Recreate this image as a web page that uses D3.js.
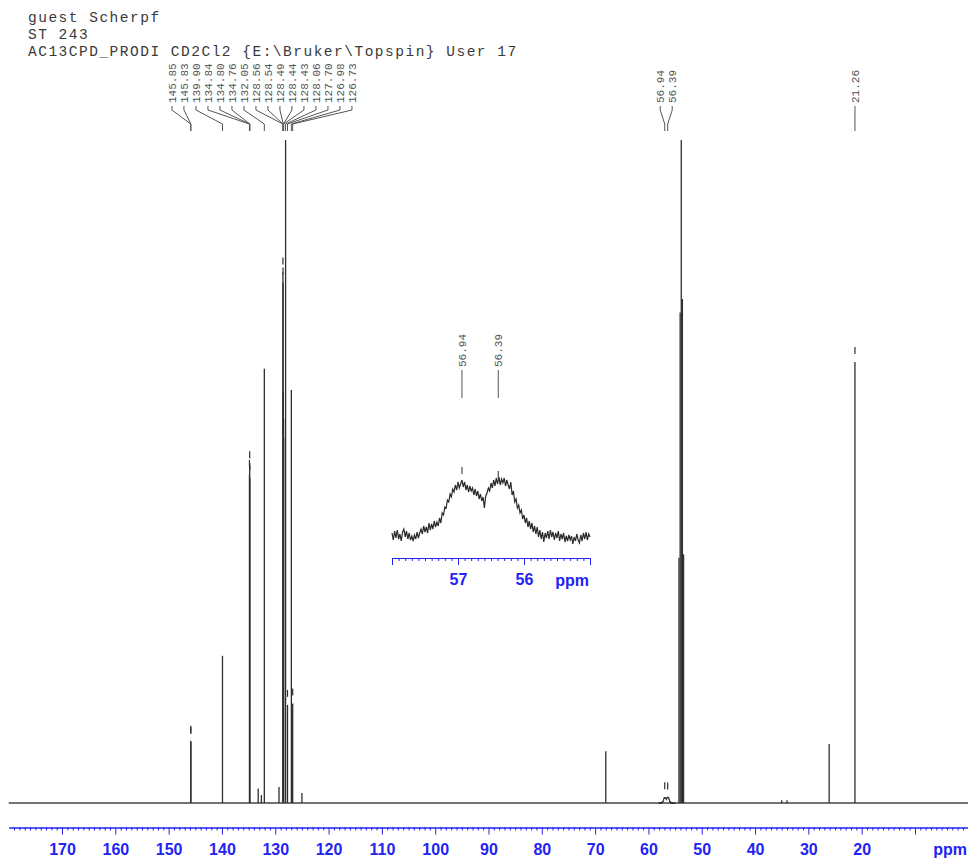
<!DOCTYPE html>
<html>
<head>
<meta charset="utf-8">
<script src="https://cdn.jsdelivr.net/npm/d3@7"></script>
<style>
  html, body { margin: 0; padding: 0; background: #fff; }
  svg { display: block; }
</style>
</head>
<body>
<svg id="chart" width="968" height="859"></svg>
<script>
// ---- header lines ----
const titleLines = [
  "guest Scherpf",
  "ST 243",
  "AC13CPD_PRODI CD2Cl2 {E:\\Bruker\\Topspin} User 17"
];

// ---- 13C peaks: chemical shift (ppm) and relative intensity (%) ----
const peakPpm = [
  145.85, 145.83, 139.90, 134.84, 134.80, 134.76, 133.20, 132.60, 132.05,
  129.30, 128.56, 128.54, 128.49, 128.44, 128.43, 128.06, 127.70, 126.98,
  126.73, 125.00, 68.00, 54.27, 54.05, 53.84, 53.63, 53.41, 35.00, 34.00,
  26.10, 21.26
];
const peakHeight = [
  9.4, 9.2, 22.2, 49.5, 50.8, 49.0, 2.2, 1.2, 65.5,
  2.4, 80.0, 78.5, 62.0, 58.0, 55.0, 100.0, 14.8, 62.3,
  15.0, 1.5, 7.8, 37.0, 74.0, 100.0, 76.0, 37.5, 0.4, 0.4,
  8.9, 66.5
];

// picked peaks (labelled above the spectrum)
const pickedPpm = [
  145.85, 145.83, 139.90, 134.84, 134.80, 134.76, 132.05, 128.56, 128.54,
  128.49, 128.44, 128.43, 128.06, 127.70, 126.98, 126.73, 56.94, 56.39, 21.26
];
// picked peaks whose tick mark stands clear of the line
const markedPpm = [
  145.85, 145.83, 134.84, 134.80, 134.76, 128.56, 128.54, 127.70, 126.73,
  56.94, 56.39, 21.26
];

// main ppm axis
const axisTicks = [170, 160, 150, 140, 130, 120, 110, 100, 90, 80, 70, 60, 50, 40, 30, 20, 10];
const axisLabels = [170, 160, 150, 140, 130, 120, 110, 100, 90, 80, 70, 60, 50, 40, 30, 20];

// ---- expanded region 58.00 .. 55.00 ppm, sampled every 0.02 ppm ----
const insetStart = 58.00;
const insetStep = 0.02;
const insetIntensity = [
   2, -5,  4, -3,  5, -4,  1, -6,  3,  6,
  -2,  4, -4,  2, -5, -1, -6,  0, -4,  3,
  -3,  2,  6,  1,  9,  3,  8,  2, 12,  5,
  11,  6, 14,  8, 13,  9, 17, 12, 22, 20,
  28, 27, 35, 33, 41, 38, 46, 43, 50, 45,
  53, 47, 51, 55, 48, 53, 45, 50, 43, 49,
  44, 47, 40, 46, 39, 44, 36, 41, 34, 38,
  27, 39, 42, 47, 44, 52, 47, 55, 49, 57,
  51, 58, 50, 56, 52, 57, 49, 55, 50, 46,
  53, 40, 44, 33, 36, 27, 30, 22, 25, 16,
  20, 12, 17,  8, 14,  6, 12,  3,  9,  1,
   8, -2,  5, -4,  3, -7,  2, -3,  4, -4,
   5, -2,  3, -5,  2, -3,  4, -6,  1, -4,
   2, -7, -1, -6,  0, -5, -1, -9, -2, -6,
   1, -5, -8,  0, -6,  2, -4,  3, -5,  1,
  -2
];
const insetPicked = [56.94, 56.39];
const insetTicks = [58, 57, 56, 55];
const insetLabels = [57, 56];
// inset intensity units expressed in % of the main spectrum
const insetToMain = 0.016;

// ---- styles ----
const specColor = "#2e2e2e";
const axisBlue = "#2323f5";
const labelFont = "'Liberation Mono', 'DejaVu Sans Mono', monospace";
const axisFont = "'Liberation Sans', Arial, Helvetica, sans-serif";

const svg = d3.select("#chart");

// header
svg.append("g").selectAll("text")
  .data(titleLines)
  .join("text")
  .attr("x", 28)
  .attr("y", (d, i) => 22 + i * 17)
  .attr("font-family", labelFont)
  .attr("font-size", 14.5)
  .attr("letter-spacing", 1.5)
  .attr("fill", "#3a3a3a")
  .text(d => d);

// ---- main scales ----
const x = d3.scaleLinear().domain([180, 0]).range([8.7, 968.3]);
const y = d3.scaleLinear().domain([0, 100]).range([803, 140]);

const insetPpm = insetIntensity.map((v, i) => insetStart - i * insetStep);
function insetValueAt(p) {
  const i = d3.leastIndex(insetPpm, q => Math.abs(q - p));
  return insetIntensity[i];
}
function heightAt(p) {
  const i = peakPpm.findIndex(q => Math.abs(q - p) < 1e-6);
  if (i >= 0) return peakHeight[i];
  return insetValueAt(p) * insetToMain;
}

const spec = svg.append("g");

// baseline
spec.append("path")
  .attr("d", d3.line().x(d => x(d)).y(y(0))([180, 0]))
  .attr("stroke", "#444")
  .attr("stroke-width", 1.4)
  .attr("fill", "none");

// broad signal around 56-57 ppm on the main scale
spec.append("path")
  .datum(insetIntensity)
  .attr("d", d3.line()
    .x((d, i) => x(insetPpm[i]))
    .y(d => y(d * insetToMain)))
  .attr("stroke", specColor)
  .attr("stroke-width", 1)
  .attr("fill", "none");

// peaks
spec.selectAll("line.peak")
  .data(peakPpm)
  .join("line")
  .attr("class", "peak")
  .attr("x1", d => x(d))
  .attr("x2", d => x(d))
  .attr("y1", y(0))
  .attr("y2", (d, i) => y(peakHeight[i]))
  .attr("stroke", specColor)
  .attr("stroke-width", 1.3);

// peak-pick markers
spec.selectAll("line.pick")
  .data(markedPpm)
  .join("line")
  .attr("class", "pick")
  .attr("x1", d => x(d))
  .attr("x2", d => x(d))
  .attr("y1", d => y(heightAt(d)) - 15)
  .attr("y2", d => y(heightAt(d)) - 8)
  .attr("stroke", specColor)
  .attr("stroke-width", 1.2);

// ---- peak labels, spread so they don't overlap ----
function spreadLabels(xs, gap) {
  let groups = xs.map((v, i) => ({ members: [i] }));
  const centerOf = g => d3.mean(g.members, i => xs[i]);
  let merged = true;
  while (merged) {
    merged = false;
    for (let k = 0; k < groups.length - 1; k++) {
      const a = groups[k], b = groups[k + 1];
      const aEnd = centerOf(a) + (a.members.length - 1) / 2 * gap;
      const bStart = centerOf(b) - (b.members.length - 1) / 2 * gap;
      if (bStart - aEnd < gap) {
        groups.splice(k, 2, { members: a.members.concat(b.members) });
        merged = true;
        break;
      }
    }
  }
  const out = new Array(xs.length);
  groups.forEach(g => {
    const c = centerOf(g);
    g.members.forEach((m, j) => { out[m] = c + (j - (g.members.length - 1) / 2) * gap; });
  });
  return out;
}

const peakX = pickedPpm.map(p => x(p));
const labelX = spreadLabels(peakX, 12);

const labels = svg.append("g");
labels.selectAll("path")
  .data(pickedPpm)
  .join("path")
  .attr("d", (d, i) => `M${labelX[i]},106V110L${peakX[i]},124V131`)
  .attr("stroke", "#555")
  .attr("stroke-width", 1)
  .attr("fill", "none");

labels.selectAll("text")
  .data(pickedPpm)
  .join("text")
  .attr("transform", (d, i) => `translate(${labelX[i]},103) rotate(-90)`)
  .attr("dy", "0.35em")
  .attr("font-family", labelFont)
  .attr("font-size", 11)
  .attr("fill", "#555")
  .text(d => d.toFixed(2));

// ---- main axis ----
const axisY = 827.5;
const minorTicks = d3.range(0, 181).filter(v => v % 10 !== 0);
const minorAxis = svg.append("g")
  .attr("transform", `translate(0,${axisY})`)
  .call(d3.axisBottom(x).tickValues(minorTicks).tickSize(3).tickSizeOuter(0).tickFormat(""));
const majorAxis = svg.append("g")
  .attr("transform", `translate(0,${axisY})`)
  .call(d3.axisBottom(x).tickValues(axisTicks).tickSize(7).tickSizeOuter(0).tickPadding(9)
    .tickFormat(d => axisLabels.includes(d) ? d : ""));
[minorAxis, majorAxis].forEach(g => {
  g.select(".domain").attr("stroke", axisBlue);
  g.selectAll(".tick line").attr("stroke", axisBlue);
});
majorAxis.selectAll(".tick text")
  .attr("fill", axisBlue)
  .attr("font-family", axisFont)
  .attr("font-weight", "bold")
  .attr("font-size", 16);
svg.append("text")
  .attr("x", 967).attr("y", 855)
  .attr("text-anchor", "end")
  .attr("fill", axisBlue)
  .attr("font-family", axisFont)
  .attr("font-weight", "bold")
  .attr("font-size", 16)
  .text("ppm");

// ---- expanded region ----
const xi = d3.scaleLinear().domain([58, 55]).range([392, 590]);
const yi = d3.scaleLinear().domain([0, 60]).range([535, 475]);
const inset = svg.append("g");

inset.append("path")
  .datum(insetIntensity)
  .attr("d", d3.line().x((d, i) => xi(insetPpm[i])).y(d => yi(d)))
  .attr("stroke", "#2a2a2a")
  .attr("stroke-width", 1.2)
  .attr("fill", "none");

inset.selectAll("line.pick")
  .data(insetPicked)
  .join("line")
  .attr("class", "pick")
  .attr("x1", d => xi(d)).attr("x2", d => xi(d))
  .attr("y1", d => yi(insetValueAt(d)) - 13)
  .attr("y2", d => yi(insetValueAt(d)) - 6)
  .attr("stroke", specColor);

inset.selectAll("line.lead")
  .data(insetPicked)
  .join("line")
  .attr("class", "lead")
  .attr("x1", d => xi(d)).attr("x2", d => xi(d))
  .attr("y1", 370).attr("y2", 398)
  .attr("stroke", "#555");

inset.selectAll("text.lab")
  .data(insetPicked)
  .join("text")
  .attr("class", "lab")
  .attr("transform", d => `translate(${xi(d)},367) rotate(-90)`)
  .attr("dy", "0.35em")
  .attr("font-family", labelFont)
  .attr("font-size", 11)
  .attr("fill", "#555")
  .text(d => d.toFixed(2));

const insetAxisY = 558;
const insetMinor = d3.range(551, 580).map(v => v / 10).filter(v => Math.abs(v - Math.round(v)) > 1e-6);
const iMinor = inset.append("g")
  .attr("transform", `translate(0,${insetAxisY})`)
  .call(d3.axisBottom(xi).tickValues(insetMinor).tickSize(3).tickSizeOuter(0).tickFormat(""));
const iMajor = inset.append("g")
  .attr("transform", `translate(0,${insetAxisY})`)
  .call(d3.axisBottom(xi).tickValues(insetTicks).tickSize(7).tickSizeOuter(0).tickPadding(9)
    .tickFormat(d => insetLabels.includes(d) ? d : ""));
[iMinor, iMajor].forEach(g => {
  g.select(".domain").attr("stroke", axisBlue);
  g.selectAll(".tick line").attr("stroke", axisBlue);
});
iMajor.selectAll(".tick text")
  .attr("fill", axisBlue)
  .attr("font-family", axisFont)
  .attr("font-weight", "bold")
  .attr("font-size", 16);
inset.append("text")
  .attr("x", 589).attr("y", 586)
  .attr("text-anchor", "end")
  .attr("fill", axisBlue)
  .attr("font-family", axisFont)
  .attr("font-weight", "bold")
  .attr("font-size", 16)
  .text("ppm");
</script>
</body>
</html>
